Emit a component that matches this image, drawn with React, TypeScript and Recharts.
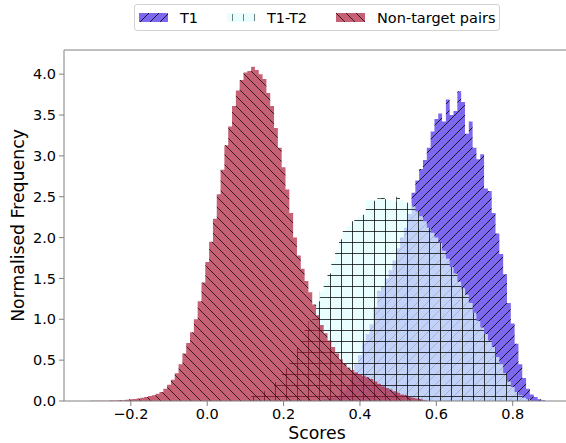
import React from 'react'
import { ComposedChart, Area, XAxis, YAxis, ReferenceLine } from 'recharts'

// histogram bins, 0.01 wide, values given per bin centre
const BIN_WIDTH = 0.01
const X_DOMAIN = [-0.375, 0.95]
const Y_MAX = 4.296
const X_TICKS = [-0.2, 0, 0.2, 0.4, 0.6, 0.8]
const Y_TICKS = [0, 0.5, 1, 1.5, 2, 2.5, 3, 3.5, 4]

const NT_FIRST = -0.3
const NT_VALUES = [
  0.002, 0.002, 0.003, 0.003, 0.004, 0.005, 0.006, 0.008, 0.01, 0.015,
  0.02, 0.025, 0.03, 0.04, 0.05, 0.06, 0.07, 0.09, 0.11, 0.15,
  0.2, 0.26, 0.34, 0.45, 0.58, 0.71, 0.84, 1.0, 1.22, 1.45,
  1.7, 1.95, 2.23, 2.53, 2.83, 3.13, 3.36, 3.61, 3.8, 3.93,
  4.02, 4.04, 4.09, 4.05, 4.0, 3.94, 3.77, 3.61, 3.34, 3.1,
  2.86, 2.59, 2.3, 2.0, 1.78, 1.62, 1.47, 1.33, 1.18, 1.05,
  0.93, 0.83, 0.74, 0.66, 0.58, 0.51, 0.46, 0.41, 0.38, 0.35,
  0.33, 0.31, 0.29, 0.27, 0.24, 0.21, 0.18, 0.16, 0.14, 0.12,
  0.1, 0.08, 0.07, 0.05, 0.04, 0.03, 0.02, 0.01,
]

const T12_FIRST = 0.12
const T12_VALUES = [
  0.06, 0.08, 0.1, 0.12, 0.14, 0.18, 0.23, 0.28, 0.34, 0.4,
  0.48, 0.57, 0.66, 0.76, 0.87, 0.98, 1.1, 1.22, 1.34, 1.46,
  1.56, 1.7, 1.84, 1.98, 2.08, 2.14, 2.2, 2.22, 2.25, 2.28,
  2.45, 2.46, 2.45, 2.48, 2.5, 2.47, 2.46, 2.44, 2.5, 2.46,
  2.43, 2.42, 2.38, 2.32, 2.26, 2.2, 2.12, 2.06, 2.0, 1.94,
  1.84, 1.74, 1.64, 1.56, 1.46, 1.38, 1.3, 1.2, 1.08, 0.98,
  0.9, 0.82, 0.74, 0.66, 0.54, 0.45, 0.34, 0.24, 0.17, 0.11,
  0.07, 0.04, 0.02,
]

const T1_FIRST = 0.3
const T1_VALUES = [
  0.01, 0.02, 0.03, 0.04, 0.06, 0.09, 0.13, 0.19, 0.3, 0.45,
  0.56, 0.72, 0.82, 0.94, 1.15, 1.35, 1.4, 1.5, 1.6, 1.72,
  1.87, 2.0, 2.12, 2.29, 2.55, 2.7, 2.84, 2.95, 3.1, 3.3,
  3.45, 3.52, 3.42, 3.69, 3.5, 3.55, 3.79, 3.66, 3.27, 3.42,
  3.1, 2.96, 3.02, 2.6, 2.57, 2.3, 2.05, 1.8, 1.55, 1.2,
  0.95, 0.7, 0.45, 0.28, 0.15, 0.08, 0.05, 0.02, 0.01,
]

const valueAt = (values: number[], first: number, centre: number) => {
  const i = Math.round((centre - first) / BIN_WIDTH)
  return i >= 0 && i < values.length ? values[i] : 0
}

// one row per bin left edge, stepAfter draws the bars
const data: { x: number; t1: number; t12: number; nt: number }[] = []
for (let k = -31; k <= 90; k++) {
  const centre = k * BIN_WIDTH
  data.push({
    x: +(centre - BIN_WIDTH / 2).toFixed(3),
    t1: valueAt(T1_VALUES, T1_FIRST, centre),
    t12: valueAt(T12_VALUES, T12_FIRST, centre),
    nt: valueAt(NT_VALUES, NT_FIRST, centre),
  })
}

const SPINE = '#808080'
const FONT = '"DejaVu Sans", sans-serif'

const fmt = (v: number) => (v < 0 ? '\u2212' : '') + Math.abs(v).toFixed(1)

const Patterns = () => (
  <svg width={0} height={0} style={{ position: 'absolute' }}>
    <defs>
      <pattern id="t1Hatch" patternUnits="userSpaceOnUse" width={10} height={10}>
        <rect width={10} height={10} fill="#7b68ee" />
        <path d="M0,10 L10,0 M-1,1 L1,-1 M9,11 L11,9" stroke="#000" strokeWidth={1} strokeOpacity={0.8} />
      </pattern>
      <pattern id="t12Hatch" patternUnits="userSpaceOnUse" width={11} height={11}>
        <rect width={11} height={11} fill="#e0ffff" fillOpacity={0.7} />
        <path d="M0.5,0 V11 M0,0.5 H11" stroke="#000" strokeWidth={1} strokeOpacity={0.75} />
      </pattern>
      <pattern id="ntHatch" patternUnits="userSpaceOnUse" width={10} height={10}>
        <rect width={10} height={10} fill="rgb(170,20,50)" fillOpacity={0.68} />
        <path d="M0,0 L10,10 M-1,9 L1,11 M9,-1 L11,1" stroke="#000" strokeWidth={1} strokeOpacity={0.7} />
      </pattern>
    </defs>
  </svg>
)

const Legend = () => {
  const text: React.CSSProperties = { position: 'absolute', top: 4, fontSize: 14.5, lineHeight: '18px', color: '#000' }
  const sw: React.CSSProperties = { position: 'absolute', top: 8 }
  return (
    <div
      style={{
        position: 'absolute', left: 134, top: 4, width: 366, height: 27,
        border: '1px solid #d3d3d3', borderRadius: 3, background: '#fff',
        boxSizing: 'border-box', fontFamily: FONT,
      }}
    >
      <svg width={29} height={9} style={{ ...sw, left: 4 }}>
        <rect width={29} height={9} fill="url(#t1Hatch)" />
      </svg>
      <span style={{ ...text, left: 45 }}>T1</span>
      <svg width={29} height={9} style={{ ...sw, left: 92 }}>
        <rect width={29} height={9} fill="#e0ffff" fillOpacity={0.7} />
        <path d="M5.5,1 V8 M16.5,1 V8 M27.5,1 V8" stroke="#000" strokeOpacity={0.5} />
      </svg>
      <span style={{ ...text, left: 132 }}>T1-T2</span>
      <svg width={29} height={9} style={{ ...sw, left: 201 }}>
        <rect width={29} height={9} fill="url(#ntHatch)" />
      </svg>
      <span style={{ ...text, left: 242 }}>Non-target pairs</span>
    </div>
  )
}

const App = () => {
  return (
    <div style={{ position: 'relative', width: 566, height: 443, overflow: 'hidden', fontFamily: FONT, background: '#fff' }}>
      <style>{'body{margin:0}'}</style>
      <Patterns />
      <ComposedChart width={570} height={443} data={data} margin={{ top: 50, right: 0, bottom: 0, left: 0 }}>
        <XAxis
          type="number"
          dataKey="x"
          domain={X_DOMAIN}
          ticks={X_TICKS}
          allowDataOverflow
          tickFormatter={fmt}
          height={42}
          tickSize={5}
          tickMargin={3}
          stroke={SPINE}
          tick={{ fill: '#000', fontSize: 14.5 }}
          label={(props: any) => {
            const vb = props.viewBox
            return (
              <text x={vb.x + vb.width / 2} y={vb.y + 38} textAnchor="middle" fontSize={17.3} fill="#000">
                Scores
              </text>
            )
          }}
        />
        <YAxis
          type="number"
          domain={[0, Y_MAX]}
          ticks={Y_TICKS}
          allowDataOverflow
          tickFormatter={(v: number) => v.toFixed(1)}
          width={64}
          tickSize={5}
          tickMargin={3}
          stroke={SPINE}
          tick={{ fill: '#000', fontSize: 14.5 }}
          label={(props: any) => {
            const vb = props.viewBox
            const cy = vb.y + vb.height / 2
            return (
              <text
                x={18}
                y={cy}
                transform={`rotate(-90, 18, ${cy})`}
                textAnchor="middle"
                dominantBaseline="central"
                fontSize={17.3}
                fill="#000"
              >
                Normalised Frequency
              </text>
            )
          }}
        />
        <Area type="stepAfter" dataKey="t1" stroke="none" fill="url(#t1Hatch)" fillOpacity={1} dot={false} activeDot={false} isAnimationActive={false} />
        <Area type="stepAfter" dataKey="t12" stroke="none" fill="url(#t12Hatch)" fillOpacity={1} dot={false} activeDot={false} isAnimationActive={false} />
        <Area type="stepAfter" dataKey="nt" stroke="none" fill="url(#ntHatch)" fillOpacity={1} dot={false} activeDot={false} isAnimationActive={false} />
        <ReferenceLine y={Y_MAX} stroke={SPINE} />
      </ComposedChart>
      <Legend />
    </div>
  )
}

export default App
